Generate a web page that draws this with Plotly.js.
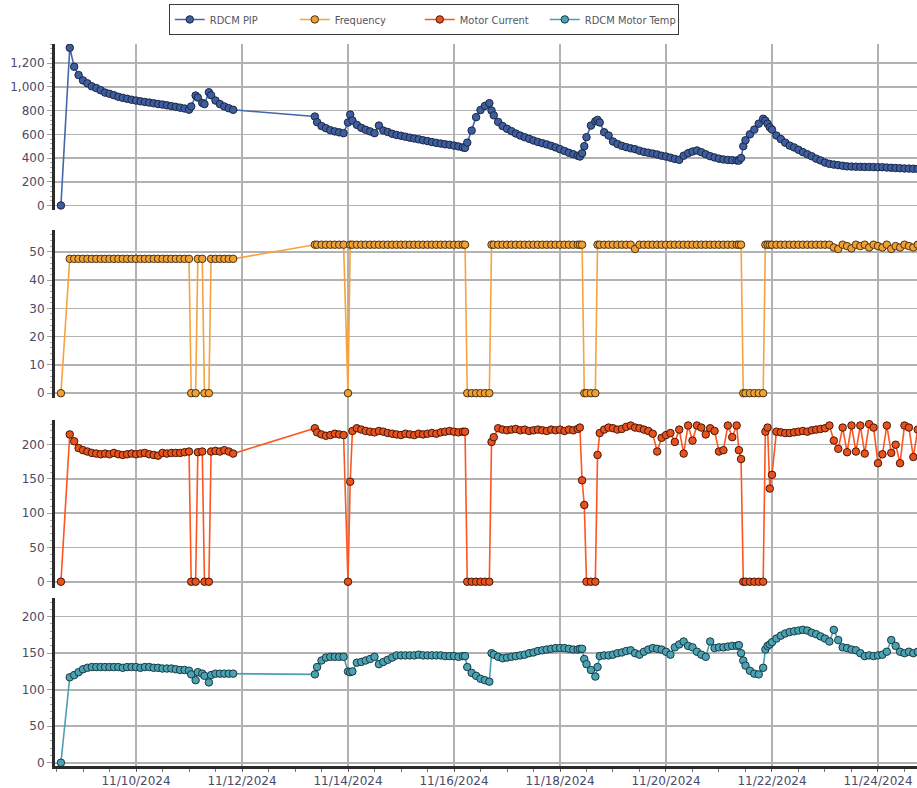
<!DOCTYPE html>
<html>
<head>
<meta charset="utf-8">
<script src="https://cdn.plot.ly/plotly-3.0.1.min.js"></script>
<style>
html,body{margin:0;padding:0;background:#fff;}
#chart{width:917px;height:788px;}
</style>
</head>
<body>
<div id="chart"></div>
<script>
// Sample times: hours after 2024-11-08 00:00
const hours = [
  14,18,20,22,24,26,28,30,32,34,
  36,38,40,42,44,46,48,50,52,54,
  56,58,60,62,64,66,68,70,72,73,
  75,76,78,79,81,82,84,86,88,90,
  92,129,130,132,134,136,138,140,142,144,
  145,146,148,150,152,154,156,158,160,162,
  164,166,168,170,172,174,176,178,180,182,
  184,186,188,190,192,194,196,197,198,200,
  202,204,206,208,209,210,212,214,216,218,
  220,222,224,226,228,230,232,234,236,238,
  240,242,244,246,248,249,250,251,252,254,
  256,257,258,260,262,264,266,268,270,272,
  274,276,278,280,282,284,286,288,290,292,
  294,296,298,300,302,304,306,308,310,312,
  314,316,318,320,321,322,323,324,326,328,
  330,332,333,334,335,336,338,340,342,344,
  346,348,350,352,354,356,358,360,362,364,
  366,368,370,372,374,376,378,380,382,384,
  386,388,390,392,394,396,398,400,402
];

const rdcmPip = [
  0,1330,1170,1100,1055,1030,1005,990,972,952,
  942,930,917,908,900,892,885,879,873,868,
  862,856,851,845,838,832,825,818,808,835,
  927,910,865,855,955,930,885,855,835,820,
  807,750,703,670,652,635,625,617,610,700,
  767,717,680,655,638,625,610,674,632,620,
  605,595,588,580,572,565,558,550,543,535,
  528,522,516,512,505,498,490,486,530,632,
  745,805,840,863,801,760,705,670,647,627,
  607,590,576,562,548,536,525,515,503,490,
  475,460,445,432,420,413,440,500,576,674,
  710,722,700,618,590,540,518,503,492,482,
  475,462,452,445,438,430,420,413,403,393,
  385,420,441,455,464,450,432,416,405,395,
  388,384,382,380,379,400,500,550,600,640,
  690,731,715,690,660,640,590,560,530,505,
  490,470,450,432,415,395,380,362,351,345,
  340,335,330,328,327,326,325,325,324,323,
  323,320,318,316,314,312,311,310,309
];

const frequency = [
  0,47.5,47.5,47.5,47.5,47.5,47.5,47.5,47.5,47.5,
  47.5,47.5,47.5,47.5,47.5,47.5,47.5,47.5,47.5,47.5,
  47.5,47.5,47.5,47.5,47.5,47.5,47.5,47.5,47.5,0,
  0,47.5,47.5,0,0,47.5,47.5,47.5,47.5,47.5,
  47.5,52.5,52.5,52.5,52.5,52.5,52.5,52.5,52.5,0,
  52.5,52.5,52.5,52.5,52.5,52.5,52.5,52.5,52.5,52.5,
  52.5,52.5,52.5,52.5,52.5,52.5,52.5,52.5,52.5,52.5,
  52.5,52.5,52.5,52.5,52.5,52.5,52.5,52.5,0,0,
  0,0,0,0,52.5,52.5,52.5,52.5,52.5,52.5,
  52.5,52.5,52.5,52.5,52.5,52.5,52.5,52.5,52.5,52.5,
  52.5,52.5,52.5,52.5,52.5,52.5,52.5,0,0,0,
  0,52.5,52.5,52.5,52.5,52.5,52.5,52.5,52.5,52.5,
  51,52.5,52.5,52.5,52.5,52.5,52.5,52.5,52.5,52.5,
  52.5,52.5,52.5,52.5,52.5,52.5,52.5,52.5,52.5,52.5,
  52.5,52.5,52.5,52.5,52.5,52.5,0,0,0,0,
  0,0,52.5,52.5,52.5,52.5,52.5,52.5,52.5,52.5,
  52.5,52.5,52.5,52.5,52.5,52.5,52.5,52.5,52.5,51.5,
  51,52.5,52,51.2,52.5,52,52.5,51.5,52.5,52,
  51.5,52.5,51,52,51.5,52.5,52,51.5,52.5
];

const motorCurrent = [
  0,215,205,195,192,190,188,187,186,187,
  186,188,186,185,186,187,186,187,188,186,
  185,184,188,187,188,188,188,189,190,0,
  0,189,190,0,0,190,191,190,192,190,
  187,224,218,215,213,214,216,215,214,0,
  146,220,224,222,220,219,218,220,219,217,
  216,215,214,216,215,214,216,215,216,217,
  216,218,219,220,219,218,219,219,0,0,
  0,0,0,0,204,211,224,222,221,222,
  223,221,222,220,221,222,221,220,222,221,
  222,220,222,221,223,225,148,112,0,0,
  0,185,217,222,225,224,222,223,226,228,
  225,224,222,220,216,190,210,214,217,204,
  222,187,228,206,228,225,215,224,220,190,
  192,228,211,228,192,179,0,0,0,0,
  0,0,219,225,136,156,219,218,217,217,
  218,219,220,219,221,222,223,224,228,206,
  194,225,189,228,190,228,187,230,225,173,
  186,228,188,200,173,228,225,182,222
];

const motorTemp = [
  0,117,120,124,128,130,131,131,131,131,
  131,131,131,130,131,131,131,130,131,131,
  130,130,129,129,129,128,127,127,126,121,
  113,124,122,119,110,120,122,122,122,122,
  122,121,131,140,144,145,145,145,145,125,
  124,125,137,138,140,142,145,135,138,141,
  144,147,147,147,147,147,148,147,147,147,
  147,147,146,146,146,145,146,146,131,123,
  119,115,113,111,150,148,145,143,144,145,
  146,147,148,150,151,153,154,155,156,157,
  157,157,156,155,155,156,156,142,135,127,
  118,131,146,147,147,148,150,151,153,154,
  150,148,152,155,157,156,155,152,148,158,
  162,166,160,158,152,148,145,166,157,158,
  158,159,160,160,161,150,140,133,126,122,
  121,130,155,160,162,165,170,174,177,179,
  180,181,182,181,178,176,173,170,166,182,
  168,158,157,155,154,150,146,147,146,147,
  148,152,168,160,152,150,152,150,152
];

const seriesNames = ["RDCM PIP", "Frequency", "Motor Current", "RDCM Motor Temp"];
const tickDates = ["2024-11-10","2024-11-12","2024-11-14","2024-11-16","2024-11-18","2024-11-20","2024-11-22","2024-11-24"];
const tickLabels = ["11/10/2024","11/12/2024","11/14/2024","11/16/2024","11/18/2024","11/20/2024","11/22/2024","11/24/2024"];

const base = Date.UTC(2024, 10, 8, 0, 0, 0);
const times = hours.map(h => new Date(base + h * 3600000).toISOString().slice(0, 19).replace('T', ' '));

function makeTrace(name, y, yaxis, lineColor, fill, outline, lw) {
  return {
    type: 'scatter', mode: 'lines+markers', name: name,
    x: times, y: y, xaxis: 'x', yaxis: yaxis,
    legendwidth: lw,
    line: {color: lineColor, width: 1.6},
    marker: {size: 7.5, color: fill, line: {color: outline, width: 1}}
  };
}

const traces = [
  makeTrace(seriesNames[0], rdcmPip, 'y', '#4466aa', '#3f5e9e', '#1a2646', 80),
  makeTrace(seriesNames[1], frequency, 'y2', '#f7a23e', '#f0a035', '#4a3210', 80),
  makeTrace(seriesNames[2], motorCurrent, 'y3', '#ff5520', '#e8521c', '#4a1606', 80),
  makeTrace(seriesNames[3], motorTemp, 'y4', '#4aa0b0', '#4aa2b2', '#183a42', 88)
];

const tickFont = {family: 'DejaVu Sans, Verdana, sans-serif', size: 12, color: '#4a4a68'};
function yAx(domain, range, dtick, minorDtick, extra) {
  return Object.assign({
    domain: domain, range: range, dtick: dtick, tick0: 0,
    showline: true, linecolor: '#2b2b2b', linewidth: 3,
    ticks: 'outside', ticklen: 5, tickcolor: '#a0a0a0', tickwidth: 1,
    showgrid: true, gridcolor: '#b2b2b2', gridwidth: 1.6,
    zeroline: false, tickfont: tickFont, anchor: 'x',
    minor: {dtick: minorDtick, ticks: 'outside', ticklen: 2, tickcolor: '#a8a8a8', showgrid: false},
    fixedrange: true
  }, extra || {});
}

const layout = {
  width: 917, height: 788,
  margin: {l: 55, r: 0, t: 44, b: 22},
  paper_bgcolor: '#ffffff', plot_bgcolor: '#ffffff',
  showlegend: true,
  legend: {
    orientation: 'h', x: 0.132, xanchor: 'left', y: 1.0555, yanchor: 'top',
    bgcolor: '#ffffff', bordercolor: '#3a3a3a', borderwidth: 1,
    entrywidthmode: 'pixels',
    font: {family: 'DejaVu Sans Condensed, Liberation Sans Narrow, Liberation Sans, sans-serif', size: 11, color: '#555560'}
  },
  xaxis: {
    type: 'date', anchor: 'y4',
    range: ['2024-11-08 11:19', '2024-11-24 17:40'],
    tickmode: 'array', tickvals: tickDates, ticktext: tickLabels,
    ticks: 'outside', ticklen: 2, tickcolor: '#555', tickwidth: 1,
    showline: true, linecolor: '#2b2b2b', linewidth: 3,
    showgrid: false, zeroline: false, tickfont: tickFont,
    minor: {dtick: 43200000, tick0: '2024-11-08', ticks: 'outside', ticklen: 3, tickcolor: '#777', showgrid: false},
    fixedrange: true
  },
  yaxis: yAx([0.7701, 1], [-38, 1362], 200, 40, {tickformat: ',d'}),
  yaxis2: yAx([0.5097, 0.7424], [-1.7, 57.7], 10, 2),
  yaxis3: yAx([0.2465, 0.4792], [-9.2, 236], 50, 10),
  yaxis4: yAx([0, 0.2327], [-4.5, 225.6], 50, 10),
  shapes: tickDates.map(d => ({
    type: 'line', xref: 'x', yref: 'paper', x0: d, x1: d, y0: 0, y1: 1,
    line: {color: '#b2b2b2', width: 2}, layer: 'below'
  }))
};

Plotly.newPlot('chart', traces, layout, {displayModeBar: false, staticPlot: true});
</script>
</body>
</html>
